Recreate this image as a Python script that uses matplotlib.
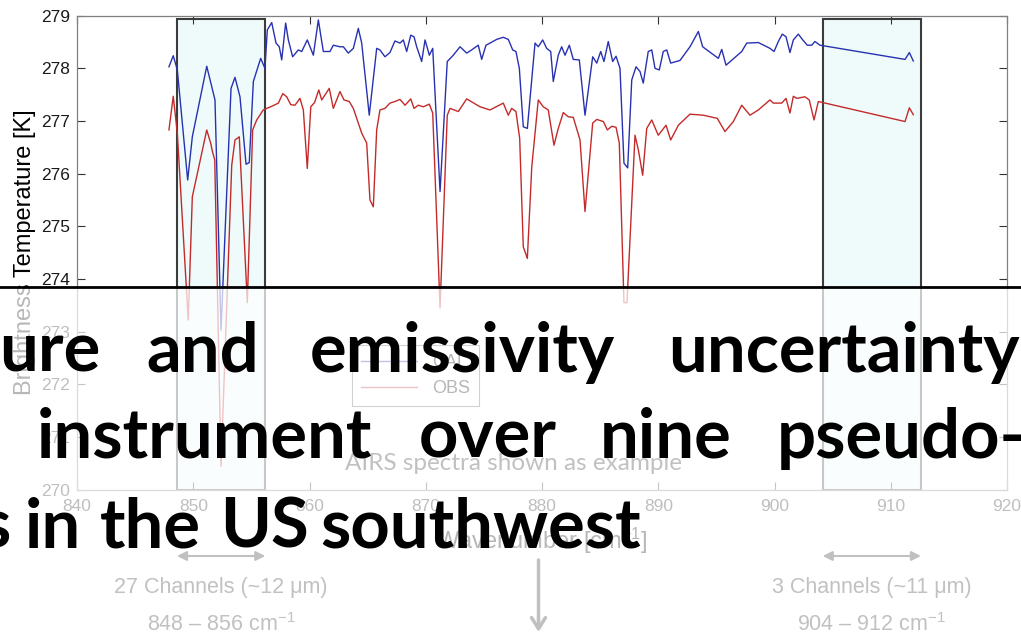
import matplotlib
matplotlib.use('Agg')
import matplotlib.pyplot as plt
import matplotlib.transforms as mtransforms
from matplotlib.patches import Rectangle
from matplotlib.lines import Line2D

plt.rcParams['font.family'] = ['Liberation Sans', 'DejaVu Sans']
plt.rcParams['mathtext.fontset'] = 'custom'
plt.rcParams['mathtext.rm'] = 'Liberation Sans'
plt.rcParams['mathtext.default'] = 'regular'

# simulated (CAL) brightness temperature
wn_cal = [847.91, 848.28, 848.63, 849.52, 849.92, 851.16, 851.59, 851.87, 852.39, 853.25,
          853.59, 854.02, 854.54, 854.82, 855.17, 855.80, 856.17, 856.37, 856.75, 857.12,
          857.40, 857.61, 857.95, 858.18, 858.55, 859.04, 859.33, 859.81, 860.33, 860.76,
          861.19, 861.76, 862.05, 862.62, 862.91, 863.34, 863.77, 864.20, 864.49, 865.14,
          865.78, 866.06, 866.49, 866.92, 867.35, 867.78, 868.07, 868.36, 868.71, 868.99,
          869.22, 869.65, 869.94, 870.31, 870.60, 871.23, 871.85, 872.37, 872.95, 873.52,
          873.95, 874.52, 874.81, 875.18, 875.53, 876.10, 876.67, 877.10, 877.48, 877.76,
          878.05, 878.39, 878.74, 879.40, 879.68, 880.06, 880.40, 880.75, 880.97, 881.40,
          881.69, 881.98, 882.35, 882.69, 883.21, 883.70, 884.36, 884.71, 885.05, 885.33,
          885.70, 886.08, 886.37, 886.71, 887.05, 887.37, 887.72, 888.09, 888.43, 888.71,
          889.14, 889.44, 889.72, 890.09, 890.43, 890.73, 891.07, 891.87, 892.73, 893.45,
          893.82, 895.17, 895.46, 895.83, 897.18, 897.61, 898.61, 899.61, 899.96, 900.33,
          900.67, 900.99, 901.33, 901.62, 902.05, 902.43, 902.82, 903.20, 903.48, 903.91,
          911.23, 911.60, 911.94]
bt_cal = [278.03, 278.24, 277.97, 275.88, 276.70, 278.04, 277.65, 277.40, 273.03, 277.62,
          277.83, 277.46, 276.18, 276.21, 277.75, 278.19, 278.00, 278.73, 278.87, 278.48,
          278.41, 278.16, 278.86, 278.54, 278.22, 278.35, 278.32, 278.54, 278.25, 278.92,
          278.32, 278.32, 278.44, 278.41, 278.41, 278.29, 278.38, 278.76, 278.48, 277.11,
          278.38, 278.35, 278.22, 278.30, 278.52, 278.48, 278.54, 278.32, 278.63, 278.60,
          278.41, 278.13, 278.54, 278.25, 278.38, 275.66, 278.13, 278.25, 278.41, 278.29,
          278.35, 278.44, 278.17, 278.44, 278.48, 278.55, 278.59, 278.55, 278.35, 278.32,
          278.00, 276.89, 276.86, 278.48, 278.41, 278.54, 278.38, 278.32, 277.75, 278.25,
          278.41, 278.25, 278.44, 278.17, 278.16, 277.11, 278.22, 278.10, 278.32, 278.13,
          278.51, 278.13, 278.23, 278.00, 276.20, 276.11, 277.78, 278.03, 277.94, 277.72,
          278.32, 278.35, 278.00, 277.97, 278.32, 278.35, 278.10, 278.15, 278.41, 278.70,
          278.41, 278.19, 278.36, 278.06, 278.32, 278.48, 278.49, 278.38, 278.32, 278.51,
          278.65, 278.60, 278.30, 278.54, 278.65, 278.54, 278.44, 278.44, 278.51, 278.44,
          278.17, 278.30, 278.14]

# observed (OBS) brightness temperature
wn_obs = [847.91, 848.28, 848.63, 849.57, 849.92, 851.16, 851.50, 851.65, 851.85, 852.39,
          853.31, 853.59, 853.96, 854.65, 855.11, 855.46, 856.02, 856.32, 856.66, 856.95,
          857.32, 857.70, 858.04, 858.39, 858.75, 859.18, 859.47, 859.81, 860.11, 860.43,
          860.80, 861.05, 861.70, 862.05, 862.62, 862.97, 863.42, 863.77, 864.49, 864.92,
          865.20, 865.49, 865.78, 866.06, 866.49, 866.92, 867.35, 867.78, 868.22, 868.71,
          868.99, 869.36, 869.79, 870.31, 870.60, 871.23, 871.85, 872.09, 872.80, 873.52,
          874.67, 875.53, 876.67, 877.10, 877.39, 877.76, 878.08, 878.39, 878.74, 879.12,
          879.68, 880.11, 880.54, 881.03, 881.40, 881.83, 882.26, 882.69, 883.27, 883.70,
          884.36, 884.71, 885.28, 885.62, 886.00, 886.37, 886.65, 887.05, 887.31, 888.00,
          888.29, 888.66, 889.01, 889.44, 890.00, 890.67, 891.07, 891.73, 892.73, 893.88,
          895.08, 895.74, 896.46, 897.18, 897.89, 898.61, 899.61, 899.90, 900.62, 900.99,
          901.33, 901.62, 901.91, 902.62, 902.99, 903.40, 903.77, 911.23, 911.60, 911.94]
bt_obs = [276.83, 277.47, 276.77, 273.22, 275.56, 276.83, 276.58, 276.42, 276.26, 270.44,
          276.16, 276.64, 276.70, 273.55, 276.83, 277.02, 277.21, 277.24, 277.27, 277.30,
          277.34, 277.52, 277.46, 277.31, 277.30, 277.43, 277.21, 276.10, 277.27, 277.35,
          277.59, 277.40, 277.62, 277.24, 277.56, 277.40, 277.37, 277.24, 276.77, 276.58,
          275.50, 275.37, 276.83, 277.21, 277.24, 277.34, 277.37, 277.41, 277.30, 277.42,
          277.24, 277.30, 277.27, 277.32, 277.15, 273.45, 277.11, 277.24, 277.18, 277.42,
          277.27, 277.21, 277.34, 277.11, 277.24, 277.18, 276.67, 274.61, 274.39, 276.13,
          277.40, 277.27, 277.21, 276.54, 276.86, 277.16, 277.08, 277.07, 276.64, 275.28,
          276.96, 277.03, 276.99, 276.83, 276.90, 276.88, 276.58, 273.55, 273.55, 276.73,
          276.45, 275.97, 276.86, 277.02, 276.73, 276.92, 276.64, 276.92, 277.13, 277.11,
          277.05, 276.80, 276.99, 277.30, 277.11, 277.21, 277.40, 277.34, 277.34, 277.43,
          277.15, 277.47, 277.43, 277.46, 277.40, 277.02, 277.37, 276.99, 277.25, 277.12]

# selected channel bands
band_lo = [848.6, 904.15]
band_hi = [856.2, 912.6]
band_top = 278.94
band_names = ['27 Channels (~12 μm)', '3 Channels (~11 μm)']
band_ranges = ['848 – 856 cm$^{-1}$', '904 – 912 cm$^{-1}$']

# slide title text lying over the chart
title_lines = [['ure', 'and', 'emissivity', 'uncertainty'],
               ['instrument', 'over', 'nine', 'pseudo-'],
               ['s', 'in', 'the', 'US', 'southwest']]
title_x = [[-1, 146, 310, 668], [37, 419, 600, 777], [-20, 25, 100, 220, 320]]
title_y = [372, 458, 548]

W, H = 1021, 641
fig = plt.figure(figsize=(W / 100, H / 100), dpi=100)
ax = fig.add_axes([77 / W, 1 - 489.6 / H, 930 / W, 473.9 / H])

for lo, hi in zip(band_lo, band_hi):
    ax.add_patch(Rectangle((lo, 270), hi - lo, band_top - 270, facecolor='#effbfb',
                           edgecolor='#3c3c3c', lw=1.5, zorder=1))

ax.plot(wn_cal, bt_cal, color='#2832b0', lw=1.0, label='CAL', zorder=3)
ax.plot(wn_obs, bt_obs, color='#c42a2a', lw=1.0, label='OBS', zorder=2)

ax.set_xlim(840, 920)
ax.set_ylim(270, 279)
ax.set_xticks(range(840, 921, 10))
ax.set_yticks(range(270, 280))
ax.tick_params(direction='in', top=True, right=True, length=6, width=0.8,
               color='#333333', labelsize=12.5, labelcolor='#1a1a1a')
ax.tick_params(axis='x', pad=7)
ax.tick_params(axis='y', pad=5)
for s in ax.spines.values():
    s.set_color('#808080')
    s.set_linewidth(0.9)
ax.set_ylabel('Brightness Temperature [K]', fontsize=17, labelpad=4)
ax.set_xlabel('Wavenumber [cm$^{-1}$]', fontsize=17, labelpad=8)

leg = ax.legend(loc='upper left', bbox_to_anchor=(0.296, 0.305), fontsize=13,
                handlelength=3.1, fancybox=False, edgecolor='#333333',
                borderaxespad=0, labelspacing=0.5, borderpad=0.5)
leg.get_frame().set_linewidth(0.8)

# annotations below the axes, in figure pixel height
blend = mtransforms.blended_transform_factory(ax.transData, mtransforms.IdentityTransform())
for lo, hi, name, rng in zip(band_lo, band_hi, band_names, band_ranges):
    ax.annotate('', xy=(lo, H - 556), xytext=(hi, H - 556), xycoords=blend,
                arrowprops=dict(arrowstyle='<|-|>', color='#202020', lw=1.5,
                                mutation_scale=14, shrinkA=0, shrinkB=0),
                annotation_clip=False)
    mid = (lo + hi) / 2
    ax.text(mid, H - 587, name, transform=blend, ha='center', va='center',
            fontsize=15.5, color='#222222', clip_on=False)
    ax.text(mid, H - 625, rng, transform=blend, ha='center', va='center',
            fontsize=15.5, color='#222222', clip_on=False)

ax.annotate('', xy=(879.7, H - 632), xytext=(879.7, H - 560), xycoords=blend,
            arrowprops=dict(arrowstyle='->, head_length=0.8, head_width=0.5',
                            color='#202020', lw=2.5, shrinkA=0, shrinkB=0),
            annotation_clip=False)
ax.text(513 / W, 1 - 470 / H, 'AIRS spectra shown as example', transform=fig.transFigure,
        ha='center', va='baseline', fontsize=17.5, family='Lato', color='#222222')

# faded lower half of the slide
fig.add_artist(Rectangle((0, 0), 1, (H - 287) / H, transform=fig.transFigure,
                         facecolor='white', alpha=0.72, edgecolor='none', zorder=5))
fig.add_artist(Line2D([0, 1], [(H - 287) / H] * 2, transform=fig.transFigure,
                      color='black', lw=2.0, zorder=6))

for words, xs, y in zip(title_lines, title_x, title_y):
    for w, x in zip(words, xs):
        fig.text(x / W, 1 - y / H, w, fontsize=49.5, fontweight='bold', family='Lato',
                 color='black', va='baseline', ha='left', zorder=10)

fig.savefig('out.png', dpi=100)
